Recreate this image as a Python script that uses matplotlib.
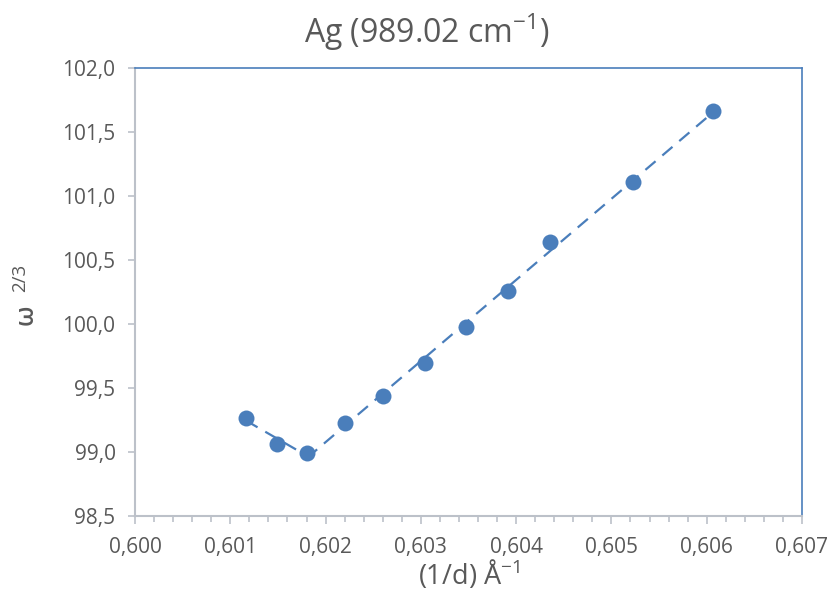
import numpy as np
import matplotlib
matplotlib.use('Agg')
import matplotlib.pyplot as plt
from matplotlib.ticker import FuncFormatter, MultipleLocator

# inverse d-spacing (1/A) and omega^(2/3)
inv_d = [0.601165, 0.601490, 0.601805, 0.602204, 0.602603, 0.603043,
         0.603474, 0.603914, 0.604355, 0.605226, 0.606066]
omega23 = [99.266, 99.063, 98.992, 99.227, 99.438, 99.695,
           99.977, 100.258, 100.641, 101.109, 101.664]

# the two linear branches share the minimum point
low_branch = slice(0, 3)
high_branch = slice(2, 11)

blue = '#4a7ebb'
grey_txt = '#595959'
axis_grey = '#bcc1c9'

plt.rcParams['font.family'] = ['Open Sans', 'DejaVu Sans']

fig = plt.figure(figsize=(8.35, 6.03), dpi=100)
ax = fig.add_axes([135 / 835, 1 - 516 / 603, 667 / 835, 448 / 603])

x = np.array(inv_d)
y = np.array(omega23)
for sl in (low_branch, high_branch):
    xs, ys = x[sl], y[sl]
    k, b = np.polyfit(xs, ys, 1)
    xx = np.array([xs.min(), xs.max()])
    ax.plot(xx, k * xx + b, color=blue, lw=1.6, dashes=(6, 4), zorder=2)

ax.plot(x, y, 'o', color=blue, markersize=11.5, markeredgewidth=0, zorder=3)

ax.set_xlim(0.600, 0.607)
ax.set_ylim(98.5, 102.0)
ax.xaxis.set_major_locator(MultipleLocator(0.001))
ax.xaxis.set_minor_locator(MultipleLocator(0.0002))
ax.yaxis.set_major_locator(MultipleLocator(0.5))
ax.xaxis.set_major_formatter(FuncFormatter(lambda v, p: f'{v:.3f}'.replace('.', ',')))
ax.yaxis.set_major_formatter(FuncFormatter(lambda v, p: f'{v:.1f}'.replace('.', ',')))

for s in ('top', 'right'):
    ax.spines[s].set_color(blue)
    ax.spines[s].set_linewidth(1.2)
for s in ('left', 'bottom'):
    ax.spines[s].set_color(axis_grey)
    ax.spines[s].set_linewidth(1.5)

ax.tick_params(axis='both', which='major', direction='out', color=axis_grey,
               labelcolor=grey_txt, labelsize=15, width=1.2)
ax.tick_params(axis='x', which='major', length=6, pad=9)
ax.tick_params(axis='x', which='minor', length=4, color=axis_grey, width=1.2)
ax.tick_params(axis='y', which='major', length=5, pad=9)

fig.text(427 / 835, 1 - 32 / 603, 'Ag (989.02 cm$^{\\mathregular{-1}}$)',
         ha='center', va='center', fontsize=23, color=grey_txt)
ax.set_xlabel('(1/d) Å$^{\\mathregular{-1}}$', fontsize=19.5, color=grey_txt, labelpad=0)

# y label: omega followed by a raised 2/3
fig.text(33 / 835, 1 - 315 / 603, 'ω', rotation=90, rotation_mode='anchor',
         ha='center', va='baseline', fontsize=18, fontweight='semibold', color=grey_txt)
fig.text(25 / 835, 1 - 278 / 603, '2/3', rotation=90, rotation_mode='anchor',
         ha='center', va='baseline', fontsize=13.5, color=grey_txt)

fig.savefig('out.png', dpi=100, facecolor='white')
